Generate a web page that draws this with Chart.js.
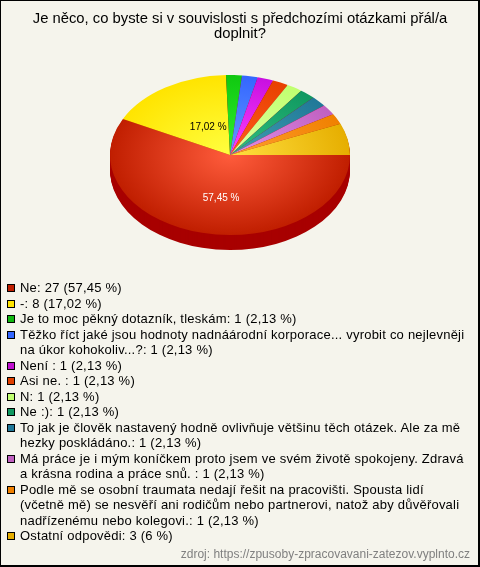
<!DOCTYPE html>
<html>
<head>
<meta charset="utf-8">
<script src="https://cdn.jsdelivr.net/npm/chart.js@4/dist/chart.umd.js"></script>
<style>
  html, body { margin: 0; padding: 0; background: #f5f4ec; }
  #wrap { position: relative; width: 480px; height: 567px; box-sizing: border-box; border: 1px solid #000; border-width: 1px 2px 2px 1px; overflow: hidden; font: 13px "Liberation Sans", Arial, sans-serif; color: #000; }
  #graph { position: absolute; left: -1px; top: -1px; }
  #legend { position: absolute; left: 6px; top: 279px; width: 464px; letter-spacing: 0.22px; }
  .row { position: relative; padding-left: 13px; line-height: 15.5px; min-height: 15.5px; }
  .row i { position: absolute; left: 0; top: 4px; width: 6px; height: 6px; border: 1px solid #000; }
  #source { position: absolute; right: 8px; top: 546px; font-size: 12px; color: #808080; }
</style>
</head>
<body>
<div id="wrap">
  <canvas id="graph" width="480" height="567"></canvas>
  <div id="legend"></div>
  <div id="source">zdroj: https://zpusoby-zpracovavani-zatezov.vyplnto.cz</div>
</div>
<script>
const titleLines = ['Je něco, co byste si v souvislosti s předchozími otázkami přál/a', 'doplnit?']
const categories = [
  'Ne', '-', 'Je to moc pěkný dotazník, tleskám',
  'Těžko říct jaké jsou hodnoty nadnáárodní korporace... vyrobit co nejlevněji na úkor kohokoliv...?',
  'Není ', 'Asi ne. ', 'N', 'Ne :)',
  'To jak je člověk nastavený hodně ovlivňuje většinu těch otázek. Ale za mě hezky poskládáno.',
  'Má práce je i mým koníčkem proto jsem ve svém životě spokojeny. Zdravá a krásna rodina a práce snů. ',
  'Podle mě se osobní traumata nedají řešit na pracovišti. Spousta lidí (včetně mě) se nesvěří ani rodičům nebo partnerovi, natož aby důvěřovali nadřízenému nebo kolegovi.',
  'Ostatní odpovědi'
]
const counts = [27, 8, 1, 1, 1, 1, 1, 1, 1, 1, 1, 3]
const percentLabels = ['57,45 %', '17,02 %', '2,13 %', '2,13 %', '2,13 %', '2,13 %', '2,13 %', '2,13 %', '2,13 %', '2,13 %', '2,13 %', '6 %']
const innerColors = ['#ff5c3c', '#ffff40', '#30f030', '#6699ff', '#ff40ff', '#ff5c1c', '#e0ffa0', '#30c080', '#40a0b0', '#e090e8', '#ffa030', '#ffe040']
const outerColors = ['#c01e00', '#ffe400', '#10c810', '#3366ff', '#c810e0', '#e84000', '#c0ff70', '#109860', '#207898', '#c060c0', '#f08000', '#e6ae00']
const sideColor = '#a80000'
const swatchColors = ['#c01e00', '#ffe400', '#10b810', '#3366ff', '#c010d0', '#e04000', '#c0ff70', '#109860', '#207898', '#c060c0', '#f08000', '#e6ae00']

// legend is plain html, chart.js cant wrap long labels
const legend = document.getElementById('legend')
categories.forEach((name, i) => {
  const row = document.createElement('div')
  row.className = 'row'
  const box = document.createElement('i')
  box.style.background = swatchColors[i]
  row.appendChild(box)
  row.appendChild(document.createTextNode(name + ': ' + counts[i] + ' (' + percentLabels[i] + ')'))
  legend.appendChild(row)
})

const squash = 2 / 3
const depth = 15
const shiftX = -10 // title stays centred on the canvas, pie sits left of it

function fitGradient(context) {
  const chart = context.chart
  const arc = chart.getDatasetMeta(0).data[context.dataIndex]
  if (!arc || !arc.x) return innerColors[context.dataIndex]
  const g = chart.ctx.createRadialGradient(arc.x, arc.y, 0, arc.x, arc.y, 120)
  g.addColorStop(0, innerColors[context.dataIndex])
  g.addColorStop(1, outerColors[context.dataIndex])
  return g
}

// tilts the pie and adds the side wall
const tilt = {
  id: 'tilt',
  beforeDatasetsDraw(chart) {
    const ctx = chart.ctx
    const arcs = chart.getDatasetMeta(0).data
    const cy = arcs[0].y
    ctx.save()
    for (let d = depth; d > 0; d--) {
      ctx.save()
      ctx.translate(shiftX, cy + d)
      ctx.scale(1, squash)
      ctx.translate(0, -cy)
      arcs.forEach(arc => {
        const keep = arc.options
        arc.options = Object.assign({}, keep, { backgroundColor: sideColor })
        arc.draw(ctx)
        arc.options = keep
      })
      ctx.restore()
    }
    ctx.translate(shiftX, cy)
    ctx.scale(1, squash)
    ctx.translate(0, -cy)
  },
  afterDatasetsDraw(chart) {
    const ctx = chart.ctx
    ctx.restore()
    const arcs = chart.getDatasetMeta(0).data
    const nudge = [[5, 4], [10.5, 6]]
    ctx.font = '10px "Liberation Sans", Arial, sans-serif'
    ctx.textAlign = 'center'
    ctx.textBaseline = 'middle'
    nudge.forEach((n, i) => {
      const p = arcs[i].tooltipPosition()
      ctx.fillStyle = i === 0 ? '#ffffff' : '#000000'
      ctx.fillText(percentLabels[i], p.x + shiftX + n[0], arcs[i].y + (p.y - arcs[i].y) * squash + n[1])
    })
  }
}

const graph = document.getElementById('graph').getContext('2d')
let myChart = new Chart(graph, {
  type: 'pie',
  data: {
    labels: categories,
    datasets: [{
      data: counts,
      backgroundColor: fitGradient,
      borderWidth: 0,
      clip: false
    }]
  },
  options: {
    responsive: false,
    animation: false,
    rotation: 90,
    radius: 120,
    layout: { padding: { bottom: 299 } },
    plugins: {
      legend: { display: false },
      tooltip: { enabled: false },
      title: {
        display: true,
        text: titleLines,
        color: '#000000',
        font: { family: '"Liberation Sans", Arial, sans-serif', size: 14.8, weight: 'normal', lineHeight: 1.05 },
        padding: { top: 11, bottom: 0 }
      }
    }
  },
  plugins: [tilt]
})
myChart.update()
</script>
</body>
</html>
